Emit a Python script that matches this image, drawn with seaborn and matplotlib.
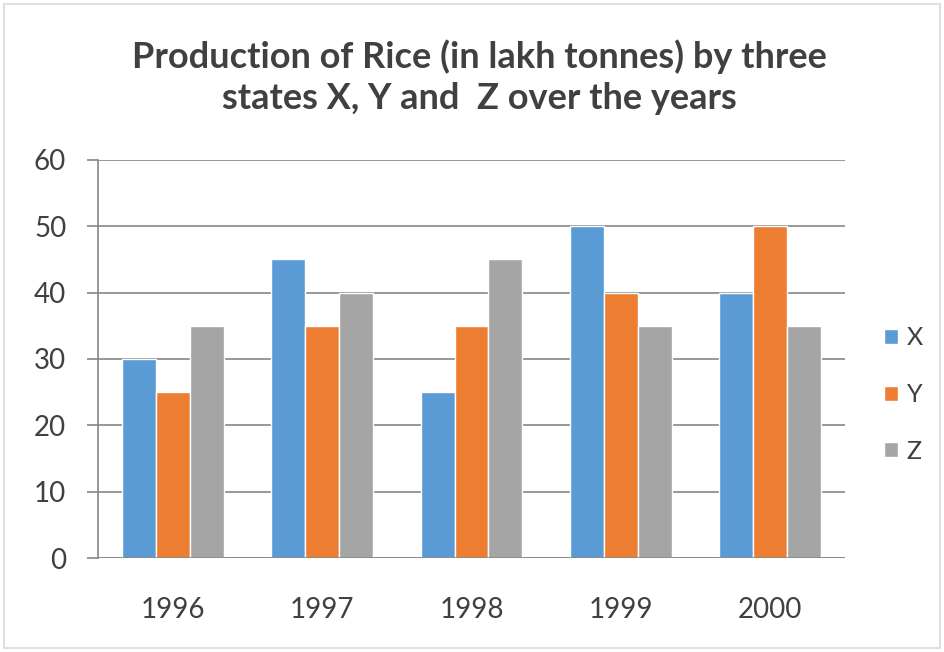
import pandas as pd
import numpy as np
import matplotlib.pyplot as plt
import matplotlib.patches as mpatches
import seaborn as sns

years = ['1996', '1997', '1998', '1999', '2000']
x_vals = [30, 45, 25, 50, 40]
y_vals = [25, 35, 35, 40, 50]
z_vals = [35, 40, 45, 35, 35]
states = ['X', 'Y', 'Z']
colors = ['#5B9BD5', '#ED7D31', '#A5A5A5']
y_ticks = [0, 10, 20, 30, 40, 50, 60]


def main():
    df = pd.DataFrame({
        'Year': years * 3,
        'State': ['X'] * 5 + ['Y'] * 5 + ['Z'] * 5,
        'Value': x_vals + y_vals + z_vals,
    })

    sns.set_style('white')
    plt.rcParams['font.family'] = ['Lato', 'DejaVu Sans']

    fig = plt.figure(figsize=(9.44, 6.52), dpi=100)
    ax = fig.add_axes([0.104, 0.144, 0.791, 0.611])

    sns.barplot(data=df, x='Year', y='Value', hue='State', order=years,
                hue_order=states, palette=colors, width=0.68, saturation=1,
                ax=ax, zorder=3)

    ax.set_ylim(0, 60)
    ax.set_xlim(-0.5, 4.5)
    ax.set_yticks(y_ticks)
    ax.set_xlabel('')
    ax.set_ylabel('')
    ax.yaxis.grid(True, color='#868686', linewidth=1.2, zorder=0)
    for side in ['top', 'right', 'bottom']:
        ax.spines[side].set_visible(False)
    ax.spines['left'].set_color('#868686')
    ax.spines['left'].set_linewidth(1.2)
    ax.tick_params(axis='y', length=8, width=1.2, color='#868686',
                   labelsize=20, labelcolor='#404040', pad=15, left=True)
    ax.tick_params(axis='x', length=0, labelsize=20, labelcolor='#404040', pad=28)
    ax.axhline(0, color='#868686', linewidth=1.2, zorder=4)

    handles, labels = ax.get_legend_handles_labels()
    ax.legend(handles, labels, loc='center left', bbox_to_anchor=(0.913, 0.395),
              bbox_transform=fig.transFigure, frameon=False, fontsize=18,
              handlelength=0.55, handleheight=0.55, handletextpad=0.35,
              labelspacing=1.35, labelcolor='#404040')

    fig.text(0.508, 0.882, 'Production of Rice (in lakh tonnes) by three\nstates X, Y and  Z over the years',
             ha='center', va='center', fontsize=26, fontweight='bold',
             color='#404040', linespacing=1.3)

    fig.patches.append(mpatches.Rectangle((0.004, 0.006), 0.992, 0.988, transform=fig.transFigure,
                                          fill=False, edgecolor='#D9D9D9', linewidth=1.2))

    fig.savefig('out.png', dpi=100, facecolor='white')
    plt.close(fig)


if __name__ == "__main__":
    main()
